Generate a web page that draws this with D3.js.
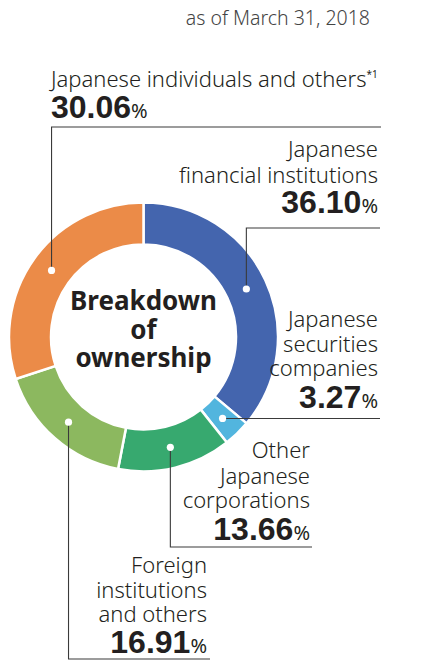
<!DOCTYPE html>
<html>
<head>
<meta charset="utf-8">
<script src="https://cdn.jsdelivr.net/npm/d3@7"></script>
<style>
  html, body { margin: 0; padding: 0; background: #fff; }
  svg { display: block; }
  .lbl { font-family: "Noto Sans", "Open Sans", sans-serif; font-weight: 300; font-size: 22px; fill: #231f20; }
  .num { font-family: "Liberation Sans Narrow", "Arial Narrow", sans-serif; font-weight: bold; font-size: 32px; fill: #231f20; }
  .pct { font-family: "Noto Sans", sans-serif; font-weight: normal; font-size: 20px; }
</style>
</head>
<body>
<svg id="chart" width="426" height="662"></svg>
<script>
// Shareholder categories, clockwise from 12 o'clock
const categories = [
  "Japanese financial institutions",
  "Japanese securities companies",
  "Other Japanese corporations",
  "Foreign institutions and others",
  "Japanese individuals and others"
];
const shares = [36.10, 3.27, 13.66, 16.91, 30.06];
const colors = ["#4465ae", "#52b5de", "#37a96f", "#8cb85f", "#eb8b48"];
const labelLines = [
  ["Japanese", "financial institutions"],
  ["Japanese", "securities", "companies"],
  ["Other", "Japanese", "corporations"],
  ["Foreign", "institutions", "and others"],
  ["Japanese individuals and others"]
];
const dateNote = "as of March 31, 2018";
const centerTitle = ["Breakdown", "of", "ownership"];

const svg = d3.select("#chart");
const cx = 143.5, cy = 337, rOuter = 134.5, rInner = 92.5, rDot = 113.5;

const pie = d3.pie().sort(null).value(d => d)(shares);
const arc = d3.arc().innerRadius(rInner).outerRadius(rOuter);

const g = svg.append("g").attr("transform", `translate(${cx},${cy})`);
g.selectAll("path.slice").data(pie).join("path")
  .attr("class", "slice")
  .attr("d", arc)
  .attr("fill", (d, i) => colors[i])
  .attr("stroke", "#fff")
  .attr("stroke-width", 2.5);

// centre title
svg.append("text")
  .attr("x", cx).attr("y", 310)
  .attr("text-anchor", "middle")
  .style("font-family", "'Noto Sans', sans-serif")
  .style("font-weight", "bold")
  .style("font-size", "26px")
  .style("fill", "#231f20")
  .selectAll("tspan").data(centerTitle).join("tspan")
  .attr("x", cx)
  .attr("dy", (d, i) => i === 0 ? 0 : 28.5)
  .text(d => d);

// date note
svg.append("text")
  .attr("x", 370).attr("y", 25)
  .attr("text-anchor", "end")
  .attr("class", "lbl")
  .style("font-size", "19.5px")
  .style("fill", "#444")
  .text(dateNote);

// label layout: where each leader turns and where its text sits
const layout = [
  { bendY: 228, endX: 380, anchor: "end", tx: 378, lineY: [157, 183], numY: 213 },
  { bendY: null, endX: 380, anchor: "end", tx: 378, lineY: [327, 352, 376], numY: 408 },
  { bendY: 547, endX: 312, anchor: "end", tx: 310, lineY: [458, 484, 508], numY: 540 },
  { bendY: 659, endX: 210, anchor: "end", tx: 207, lineY: [573, 598, 622], numY: 653 },
  { bendY: 127, endX: 381, anchor: "start", tx: 51, lineY: [87], numY: 118 }
];

const fmt = d3.format(".2f");

pie.forEach((d, i) => {
  const a = (d.startAngle + d.endAngle) / 2;
  const px = cx + rDot * Math.sin(a);
  const py = cy - rDot * Math.cos(a);
  const L = layout[i];

  const pts = L.bendY === null
    ? [[px, py], [L.endX, py]]
    : [[px, py], [px, L.bendY], [L.endX, L.bendY]];
  svg.append("path")
    .attr("d", d3.line()(pts))
    .attr("fill", "none")
    .attr("stroke", "#3a3a3a")
    .attr("stroke-width", 1.1);

  svg.append("circle")
    .attr("cx", px).attr("cy", py).attr("r", 3.6)
    .attr("fill", "#fff");

  labelLines[i].forEach((line, j) => {
    const t = svg.append("text")
      .attr("class", "lbl")
      .attr("x", L.tx).attr("y", L.lineY[j])
      .attr("text-anchor", L.anchor)
      .text(line);
    if (i === 4) {
      t.append("tspan").attr("dy", -9).style("font-size", "10px").style("font-weight", "normal").text("*1");
    }
  });

  const n = svg.append("text")
    .attr("class", "num")
    .attr("x", L.tx).attr("y", L.numY)
    .attr("text-anchor", L.anchor);
  n.append("tspan").text(fmt(shares[i]));
  n.append("tspan").attr("class", "pct").text("%");
});
</script>
</body>
</html>
